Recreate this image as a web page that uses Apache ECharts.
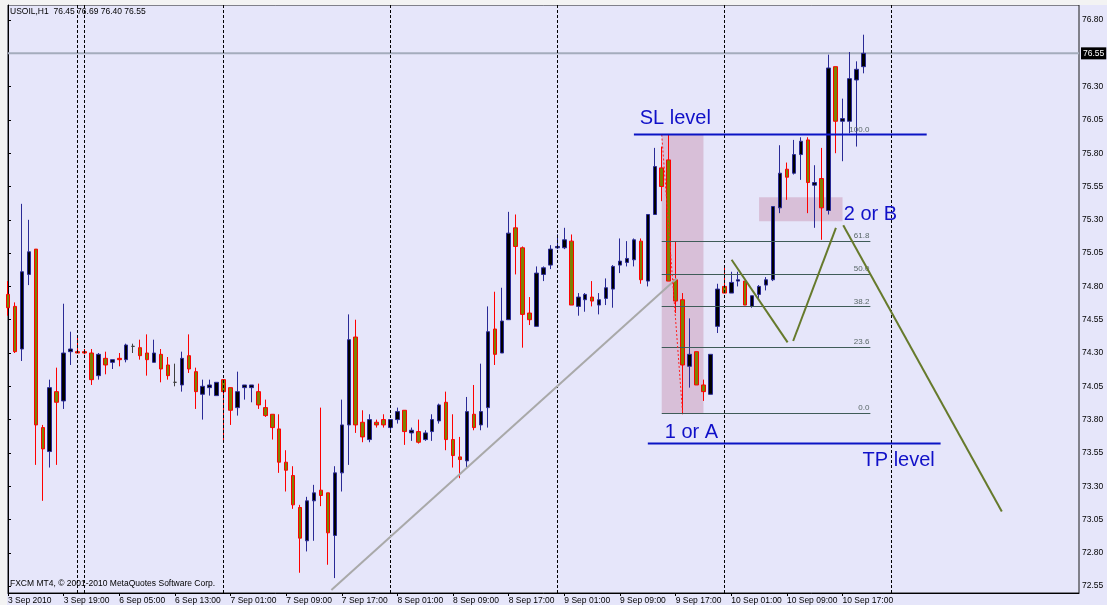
<!DOCTYPE html>
<html>
<head>
<meta charset="utf-8">
<script src="https://cdn.jsdelivr.net/npm/echarts@6/dist/echarts.min.js"></script>
<style>
  html, body { margin: 0; padding: 0; background: #e6e6fa; }
  #chart { width: 1107px; height: 605px; }
</style>
</head>
<body>
<div id="chart"></div>
<script>
(function () {
  "use strict";

  // ── Data (USOIL H1, 3 Sep - 10 Sep 2010) ──
  // each row: [open, close, low, high]
  var candles = [
    [74.74, 74.64, 74.58, 74.84], [74.65, 74.31, 74.30, 74.68], [74.33, 74.91, 74.24, 75.42], [74.89, 75.06, 74.81, 75.30],
    [75.08, 73.76, 73.46, 75.08], [73.74, 73.58, 73.19, 73.76], [73.56, 74.04, 73.44, 74.10], [74.01, 73.93, 73.46, 74.19],
    [73.94, 74.30, 73.88, 74.67], [74.31, 74.33, 74.21, 74.46], [74.31, 74.30, 74.30, 74.42], [74.31, 74.30, 74.29, 74.33],
    [74.30, 74.10, 74.06, 74.33], [74.13, 74.29, 74.10, 74.30], [74.26, 74.21, 74.14, 74.31], [74.23, 74.25, 74.18, 74.25],
    [74.26, 74.25, 74.20, 74.30], [74.25, 74.36, 74.23, 74.37], [74.35, 74.35, 74.30, 74.37], [74.34, 74.28, 74.25, 74.40],
    [74.30, 74.25, 74.13, 74.44], [74.23, 74.30, 74.23, 74.40], [74.29, 74.18, 74.08, 74.33], [74.21, 74.13, 74.10, 74.27],
    [74.08, 74.08, 74.05, 74.22], [74.06, 74.26, 74.01, 74.31], [74.28, 74.18, 74.15, 74.44], [74.16, 74.01, 73.88, 74.19],
    [73.99, 74.05, 73.80, 74.10], [74.04, 74.06, 73.98, 74.10], [73.98, 74.08, 73.98, 74.08], [74.10, 74.01, 73.63, 74.10],
    [74.04, 73.87, 73.76, 74.04], [73.89, 74.01, 73.83, 74.16], [74.04, 74.06, 73.95, 74.06], [74.04, 74.06, 73.93, 74.06],
    [74.01, 73.91, 73.88, 74.07], [73.89, 73.83, 73.82, 73.95], [73.84, 73.74, 73.65, 73.84], [73.73, 73.48, 73.40, 73.84],
    [73.48, 73.42, 73.26, 73.57], [73.38, 73.16, 73.13, 73.45], [73.14, 72.91, 72.65, 73.16], [72.89, 73.19, 72.81, 73.22],
    [73.19, 73.25, 72.89, 73.31], [73.27, 73.23, 73.15, 73.89], [73.25, 72.95, 72.71, 73.25], [72.93, 73.40, 72.61, 73.45],
    [73.40, 73.76, 73.26, 73.95], [73.76, 74.40, 73.46, 74.59], [74.42, 73.76, 73.70, 74.55], [73.78, 73.67, 73.63, 73.87],
    [73.65, 73.80, 73.63, 73.84], [73.78, 73.76, 73.74, 73.80], [73.80, 73.76, 73.74, 73.84], [73.74, 73.80, 73.71, 73.80],
    [73.80, 73.86, 73.77, 73.89], [73.87, 73.71, 73.61, 73.87], [73.70, 73.72, 73.64, 73.74], [73.71, 73.63, 73.62, 73.80],
    [73.65, 73.70, 73.64, 73.72], [73.71, 73.80, 73.64, 73.84], [73.79, 73.91, 73.77, 73.92], [73.93, 73.65, 73.57, 74.01],
    [73.65, 73.53, 73.44, 73.84], [73.52, 73.50, 73.36, 73.67], [73.49, 73.86, 73.44, 73.97], [73.84, 73.74, 73.72, 74.06],
    [73.76, 73.86, 73.72, 74.22], [73.89, 74.46, 73.74, 74.65], [74.48, 74.29, 74.21, 74.76], [74.30, 74.54, 74.30, 74.79],
    [74.55, 75.20, 74.55, 75.36], [75.24, 75.10, 74.89, 75.34], [75.09, 74.59, 74.34, 75.10], [74.60, 74.55, 74.51, 74.72],
    [74.50, 74.90, 74.50, 74.95], [74.89, 74.94, 74.84, 74.95], [74.96, 75.08, 74.93, 75.11], [75.09, 75.10, 75.08, 75.19],
    [75.09, 75.15, 75.08, 75.24], [75.14, 74.66, 74.66, 75.19], [74.65, 74.72, 74.58, 74.75], [74.70, 74.74, 74.61, 74.75],
    [74.72, 74.69, 74.65, 74.84], [74.66, 74.70, 74.59, 74.75], [74.71, 74.79, 74.66, 74.86], [74.78, 74.95, 74.64, 74.96],
    [74.96, 74.99, 74.90, 75.16], [74.98, 75.01, 74.95, 75.14], [75.00, 75.15, 74.95, 75.16], [75.14, 74.85, 74.82, 75.16],
    [74.84, 75.34, 74.80, 75.34], [75.34, 75.70, 75.34, 75.84], [75.69, 75.55, 75.44, 75.85], [75.75, 74.84, 74.84, 75.94],
    [74.85, 74.69, 74.60, 75.14], [74.70, 74.21, 73.84, 74.75], [74.20, 74.29, 74.04, 74.56], [74.31, 74.06, 74.06, 74.31],
    [74.06, 74.01, 73.94, 74.10], [73.99, 74.29, 73.99, 74.29], [74.50, 74.78, 74.45, 74.82], [74.80, 74.75, 74.75, 74.94],
    [74.75, 74.83, 74.75, 74.91], [74.84, 74.85, 74.80, 74.91], [74.84, 74.66, 74.66, 74.84], [74.65, 74.73, 74.64, 74.73],
    [74.74, 74.80, 74.70, 74.81], [74.81, 74.85, 74.77, 74.87], [74.85, 75.40, 74.84, 75.40], [75.39, 75.65, 75.35, 75.86],
    [75.68, 75.62, 75.45, 75.73], [75.65, 75.79, 75.64, 75.90], [75.79, 75.89, 75.60, 75.92], [75.90, 75.58, 75.35, 75.92],
    [75.56, 75.58, 75.24, 75.71], [75.61, 75.39, 75.15, 75.84], [75.37, 76.44, 75.34, 76.54], [76.45, 76.04, 75.80, 76.45],
    [76.04, 76.06, 75.74, 76.21], [76.04, 76.36, 75.95, 76.56], [76.35, 76.43, 75.85, 76.49], [76.45, 76.55, 76.40, 76.69]
  ];

  var timeLabels = [
    "3 Sep 2010", "3 Sep 19:00", "6 Sep 05:00", "6 Sep 13:00", "7 Sep 01:00", "7 Sep 09:00",
    "7 Sep 17:00", "8 Sep 01:00", "8 Sep 09:00", "8 Sep 17:00", "9 Sep 01:00", "9 Sep 09:00",
    "9 Sep 17:00", "10 Sep 01:00", "10 Sep 09:00", "10 Sep 17:00"
  ];
  var LABEL_STEP = 8;          // one time label every 8 bars
  var BAR_SLOTS = 155;         // visible bar slots incl. right shift

  var priceTicks = [72.55, 72.80, 73.05, 73.30, 73.55, 73.80, 74.05, 74.30, 74.55,
                    74.80, 75.05, 75.30, 75.55, 75.80, 76.05, 76.30, 76.55, 76.80];
  var bidPrice = 76.55;
  var daySeparators = [10, 11, 31, 55, 79, 103, 127];

  // Fibonacci retracement: 0.0 at fibLow, 100.0 at fibHigh
  var fibLow = 73.85;
  var fibHigh = 75.94;
  var fibLevels = [0, 23.6, 38.2, 50.0, 61.8, 100.0];
  var fibSpan = [94, 124];
  var fibBase = [[94, 75.94], [97, 73.85]];

  var zoneBoxes = [[94, 73.85, 100, 75.94], [108, 75.29, 120, 75.47]];
  var trendLine = [[46.5, 72.52], [96.15, 74.86]];
  var slLine = [[90, 75.94], [132.1, 75.94]];
  var tpLine = [[92, 73.62], [134.1, 73.62]];
  var zigzag = [
    [[104.05, 75.00], [112.1, 74.38]],
    [[112.9, 74.39], [119.05, 75.24]],
    [[120.1, 75.26], [142.9, 73.11]]
  ];
  var notes = [
    { name: "SL level", value: [90.77, 76.06] },
    { name: "1 or A", value: [94.36, 73.70] },
    { name: "2 or B", value: [120.1, 75.34] },
    { name: "TP level", value: [122.8, 73.49] }
  ];

  var FONT = "'Liberation Sans', Arial, sans-serif";

  var categories = [];
  for (var i = 0; i < BAR_SLOTS; i++) categories.push(i);

  function showTimeLabel(index) {
    return index % LABEL_STEP === 0 && index / LABEL_STEP < timeLabels.length;
  }

  var fibMarks = [];
  for (var f = 0; f < fibLevels.length; f++) {
    var price = fibLow + (fibHigh - fibLow) * fibLevels[f] / 100;
    fibMarks.push([
      { coord: [fibSpan[0], price] },
      { coord: [fibSpan[1], price], label: { formatter: fibLevels[f].toFixed(1) } }
    ]);
  }

  var boxes = [];
  for (var b = 0; b < zoneBoxes.length; b++) {
    var z = zoneBoxes[b];
    boxes.push([{ coord: [z[0], z[1]] }, { coord: [z[2], z[3]] }]);
  }

  var separators = [];
  for (var s = 0; s < daySeparators.length; s++) separators.push({ xAxis: daySeparators[s] });

  function overlayLine(data, color, width, type, zz) {
    return {
      type: "line", xAxisIndex: 1, yAxisIndex: 0, data: data, symbol: "none",
      silent: true, z: zz || 5, clip: false,
      lineStyle: { color: color, width: width, type: type || "solid" }
    };
  }

  var series = [];

  // background: zones + day separators
  series.push({
    type: "line", xAxisIndex: 1, data: [], z: 1, silent: true,
    markArea: { silent: true, itemStyle: { color: "#d8bfd8" }, data: boxes },
    markLine: {
      silent: true, symbol: "none", label: { show: false },
      lineStyle: { color: "#000", width: 1, type: [3, 2] },
      data: separators
    }
  });

  series.push({
    type: "candlestick",
    data: candles,
    barWidth: 4,
    z: 3,
    itemStyle: {
      color: "#000000",
      color0: "#808000",
      borderColor: "#2a2a96",
      borderColor0: "#ff0000",
      borderColorDoji: "#404040",
      borderWidth: 1
    }
  });

  // bid line with price box
  var bidSeries = overlayLine([[0, bidPrice], [BAR_SLOTS - 1, bidPrice]], "#a4acbc", 2, "solid", 2);
  bidSeries.endLabel = {
    show: true, formatter: bidPrice.toFixed(2), color: "#fff", backgroundColor: "#000",
    padding: [2, 2, 1, 2], fontSize: 8.5, fontFamily: FONT, distance: 2
  };
  series.push(bidSeries);

  series.push(overlayLine(trendLine, "#a9a9a9", 2));
  series.push(overlayLine(fibBase, "#ff2020", 1, [2, 2]));

  // fib levels
  series.push({
    type: "line", xAxisIndex: 1, data: [], z: 6, silent: true,
    markLine: {
      silent: true, symbol: "none",
      lineStyle: { color: "#3f5c58", width: 1, type: "solid" },
      label: {
        show: true, position: "insideEndTop", distance: 1,
        fontSize: 8, fontFamily: FONT, color: "#5a6868"
      },
      data: fibMarks
    }
  });

  series.push(overlayLine(slLine, "#0b14c4", 2, "solid", 7));
  series.push(overlayLine(tpLine, "#0b14c4", 2, "solid", 7));
  for (var zz = 0; zz < zigzag.length; zz++) {
    series.push(overlayLine(zigzag[zz], "#667a2c", 2, "solid", 7));
  }

  series.push({
    type: "scatter", xAxisIndex: 1, data: notes, symbolSize: 1, z: 8, silent: true,
    itemStyle: { color: "transparent", opacity: 1 },
    label: {
      show: true, position: "right", distance: 0, formatter: "{b}", opacity: 1,
      fontSize: 20, fontFamily: FONT, color: "#1010c8"
    }
  });

  var chart = echarts.init(document.getElementById("chart"), null, { renderer: "canvas" });

  chart.setOption({
    animation: false,
    backgroundColor: "#e6e6fa",
    title: [
      {
        text: "USOIL,H1  76.45 76.69 76.40 76.55", left: 10, top: 7, padding: 0,
        textStyle: { fontSize: 8.5, fontWeight: "normal", color: "#000", fontFamily: FONT }
      },
      {
        text: "FXCM MT4, \u00a9 2001-2010 MetaQuotes Software Corp.", left: 10, top: 579, padding: 0,
        textStyle: { fontSize: 8.5, fontWeight: "normal", color: "#000", fontFamily: FONT }
      }
    ],
    graphic: [
      { type: "rect", left: 0, top: 0, shape: { width: 7, height: 605 }, style: { fill: "#f3f3f3" }, silent: true },
      { type: "rect", left: 0, top: 0, shape: { width: 1107, height: 5 }, style: { fill: "#f3f3f3" }, silent: true }
    ],
    grid: {
      left: 8, top: 5, width: 1071, height: 588,
      show: true, backgroundColor: "#e6e6fa", borderColor: "#1a1a1a", borderWidth: 1
    },
    xAxis: [
      {
        type: "category", data: categories, boundaryGap: false, position: "bottom",
        axisLine: { show: true, lineStyle: { color: "#000", width: 1 } },
        axisTick: { show: true, interval: showTimeLabel, length: 3, lineStyle: { color: "#000" } },
        axisLabel: {
          interval: showTimeLabel, align: "left", margin: 3, hideOverlap: false,
          fontSize: 8.5, fontFamily: FONT, color: "#000",
          formatter: function (v, idx) { return timeLabels[idx / LABEL_STEP] || ""; }
        },
        splitLine: { show: false }
      },
      { type: "value", min: 0, max: BAR_SLOTS - 1, show: false }
    ],
    yAxis: {
      type: "value", position: "right", min: 72.498, max: 76.913, scale: true,
      axisLine: { show: true, lineStyle: { color: "#000", width: 1 } },
      axisTick: { show: true, customValues: priceTicks, length: 3, lineStyle: { color: "#000" } },
      axisLabel: {
        customValues: priceTicks.filter(function (p) { return Math.abs(p - bidPrice) > 0.001; }),
        margin: 3, fontSize: 8.5, fontFamily: FONT, color: "#000",
        formatter: function (v) { return v.toFixed(2); }
      },
      splitLine: { show: false }
    },
    series: series
  });
})();
</script>
</body>
</html>
